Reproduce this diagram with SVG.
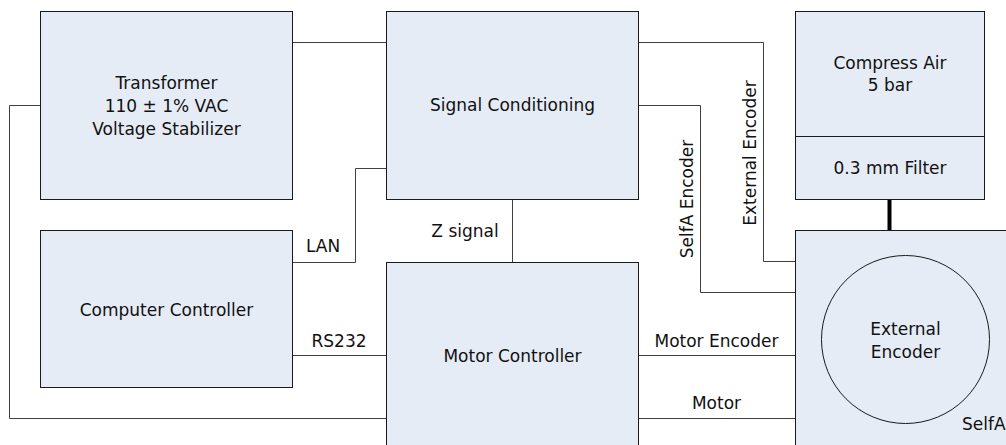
<svg xmlns="http://www.w3.org/2000/svg" width="1006" height="445" viewBox="0 0 1006 445">
<style>
.box{fill:#e6ecf6;stroke:#1a1a1a;stroke-width:1}
.ln{fill:none;stroke:#404040;stroke-width:1}
text{font-family:"DejaVu Sans",Verdana,sans-serif;font-size:17px;fill:#111}
.c{text-anchor:middle}
</style>
<rect width="1006" height="445" fill="#ffffff"/>
<g id="connectors">
<path class="ln" d="M292.5 42.5H386.5"/>
<path class="ln" d="M386.5 168.5H355.5V262.5H292.5"/>
<path class="ln" d="M40.5 105.5H9.5V418.5H386.5"/>
<path class="ln" d="M292.5 355.5H386.5"/>
<path class="ln" d="M512.5 199.5V262.5"/>
<path class="ln" d="M638.5 42.5H763.5V261.5H795.5"/>
<path class="ln" d="M638.5 105.5H700.5V292.5H795.5"/>
<path class="ln" d="M638.5 355.5H795.5"/>
<path class="ln" d="M638.5 418.5H795.5"/>
<path d="M889.5 199.5V230.5" fill="none" stroke="#000" stroke-width="4"/>
<text x="323" y="251.5" class="c">LAN</text>
<text x="339" y="346.5" class="c">RS232</text>
<text x="465" y="236.5" class="c">Z signal</text>
<text x="716.5" y="346.5" class="c">Motor Encoder</text>
<text x="716.5" y="408.5" class="c">Motor</text>
<text transform="translate(755.5,153) rotate(-90)" class="c">External Encoder</text>
<text transform="translate(692.5,199) rotate(-90)" class="c">SelfA Encoder</text>
</g>
<g id="transformer">
<rect class="box" x="40.5" y="11.5" width="252" height="188"/>
<text x="166.5" y="88.5" class="c">Transformer</text>
<text x="166.5" y="111.5" class="c">110 ± 1% VAC</text>
<text x="166.5" y="134.5" class="c">Voltage Stabilizer</text>
</g>
<g id="signal-conditioning">
<rect class="box" x="386.5" y="11.5" width="252" height="188"/>
<text x="512.5" y="111" class="c">Signal Conditioning</text>
</g>
<g id="compress-air">
<rect class="box" x="795.5" y="11.5" width="189" height="188"/>
<path d="M795.5 136.5H984.5" stroke="#1a1a1a" stroke-width="1"/>
<text x="890" y="68.5" class="c">Compress Air</text>
<text x="890" y="91" class="c">5 bar</text>
<text x="890" y="174" class="c">0.3 mm Filter</text>
</g>
<g id="computer-controller">
<rect class="box" x="40.5" y="230.5" width="252" height="157"/>
<text x="166.5" y="316" class="c">Computer Controller</text>
</g>
<g id="motor-controller">
<rect class="box" x="386.5" y="262.5" width="252" height="200"/>
<text x="512.5" y="361.5" class="c">Motor Controller</text>
</g>
<g id="selfa">
<rect class="box" x="795.5" y="230.5" width="230" height="230"/>
<circle cx="905.5" cy="339.5" r="84" fill="none" stroke="#1a1a1a" stroke-width="1"/>
<text x="905.5" y="335" class="c">External</text>
<text x="905.5" y="357.5" class="c">Encoder</text>
<text x="962" y="430">SelfA</text>
</g>
</svg>
